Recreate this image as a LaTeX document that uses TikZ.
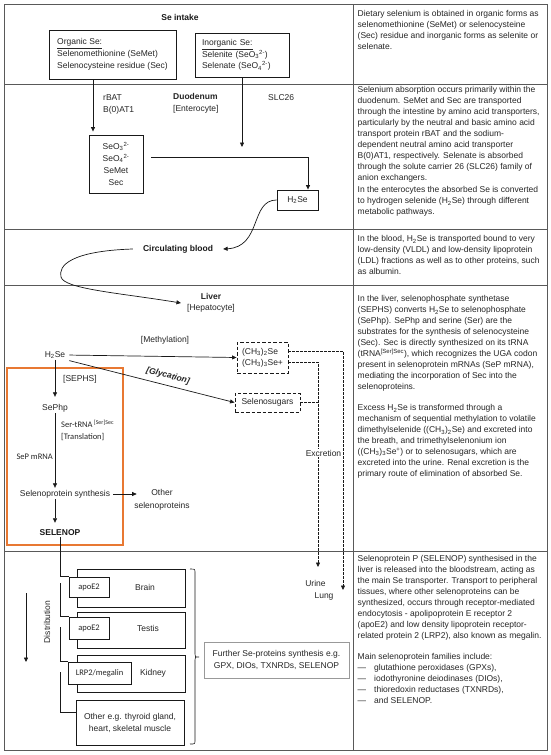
\documentclass[tikz,border=0pt]{standalone}
\usepackage{fontspec}
\setmainfont{Liberation Sans}
\newfontfamily\calfont{Carlito}
\usetikzlibrary{arrows.meta,calc}
\definecolor{boxorange}{RGB}{232,120,50}
\newcommand\myfs{\fontsize{8.5}{10.9}\selectfont}
\begin{document}
\begin{tikzpicture}[x=1pt,y=-1pt,
  every node/.style={font=\myfs, inner sep=1pt, text=black!85},
  hdr/.style={font=\myfs\bfseries, text=black!90},
  cal/.style={font=\calfont\fontsize{8.5}{10}\selectfont},
  bx/.style={draw=black!90, line width=0.9pt},
  dbx/.style={draw=black!90, line width=0.9pt, dash pattern=on 3.5pt off 2pt},
  ln/.style={draw=black!90, line width=0.7pt},
  arr/.style={ln, -{Triangle[length=4.5pt,width=4pt]}},
  dl/.style={ln, line width=0.6pt, dash pattern=on 2.5pt off 1.5pt},
  darr/.style={dl, -{Triangle[length=4.5pt,width=4pt]}},
  tbl/.style={draw=black!65, line width=0.8pt},
  orangebox/.style={draw=boxorange, line width=1.4pt},
  para/.style={anchor=north west, align=left, inner sep=0pt}]
\useasboundingbox (0,0) rectangle (550,755);
\fill[white] (0,0) rectangle (550,755);
% table
\draw[tbl] (4,4) rectangle (547,750);
\draw[tbl] (4,84) -- (547,84);
\draw[tbl] (4,229) -- (547,229);
\draw[tbl] (4,285) -- (547,285);
\draw[tbl] (4,551) -- (547,551);
\draw[tbl] (353,4) -- (353,750);

% ---- Se intake
\node[hdr] (intake) at (180,17) {Se intake};
\node[bx, minimum width=127pt, minimum height=49pt, align=left,
      font=\fontsize{8.5}{12}\selectfont] (org) at (112.5,54.5)
  {\underline{Organic Se:}\\Selenomethionine (SeMet)\\Selenocysteine residue (Sec)};
\node[bx, minimum width=94pt, minimum height=44pt, text width=80pt, align=left,
      font=\fontsize{8.5}{11.5}\selectfont] (inorg) at (242,55)
  {\underline{Inorganic Se:}\\Selenite (SeO\textsubscript{3}\textsuperscript{2-})\\Selenate (SeO\textsubscript{4}\textsuperscript{2-})};

% ---- Duodenum
\node[anchor=west, align=left, font=\fontsize{8.5}{12}\selectfont] (rbat) at (102,104) {rBAT\\B(0)AT1};
\node[anchor=west, align=left, font=\fontsize{8.5}{12}\selectfont] (duo) at (172,103) {\textbf{Duodenum}\\{[Enterocyte]}};
\node[anchor=west] (slc) at (267,98) {SLC26};
\node[bx, minimum width=54pt, minimum height=58pt, align=center,
      font=\fontsize{8.5}{12}\selectfont] (seo) at (116,164)
  {SeO\textsubscript{3}\textsuperscript{2-}\\SeO\textsubscript{4}\textsuperscript{2-}\\SeMet\\Sec};
\node[bx, minimum width=41pt, minimum height=20pt] (h2sa) at (297.5,200) {H\textsubscript{2}Se};
\coordinate (c93) at (93,0);
\coordinate (j1) at (308,157);
\draw[arr, shorten >=3pt] (org.south -| c93) -- (seo.north -| c93);
\draw[ln, shorten <=8pt] (seo.east |- j1) -- (j1);
\draw[arr] (j1) -- (h2sa.north -| j1);
\draw[arr, shorten >=10pt] (inorg.south) -- (inorg.south |- j1);

% ---- Blood
\node[hdr, inner xsep=10pt] (blood) at (178,249) {Circulating blood};
\node[align=center, inner xsep=6pt, font=\fontsize{8.5}{11}\selectfont] (liver) at (211,303) {\textbf{Liver}\\{[Hepatocyte]}};
\draw[arr] (h2sa.west) .. controls (250,200) and (262,247) .. (blood.east);
\draw[arr] (blood.west) .. controls (70,251) and (58,266) .. (61,277)
  .. controls (64,289) and (120,293) .. (liver.west);

% ---- Liver
\draw[orangebox] (7,368) rectangle (123,545);
\node (h2s) at (55,355) {H\textsubscript{2}Se};
\node (meth) at (165,340) {[Methylation]};
\node[dbx, minimum width=51pt, minimum height=31pt, align=left] (ch) at (262.5,357.5)
  {(CH\textsubscript{3})\textsubscript{2}Se\\(CH\textsubscript{3})\textsubscript{3}Se+};
\node[dbx, minimum width=65pt, minimum height=19pt] (sugar) at (267.5,402.5) {Selenosugars};
\draw[arr, shorten <=3pt] (h2s.east) -- (ch.west);
\draw[arr, shorten <=3pt] (h2s.south east) -- (sugar.west);
\node[font=\myfs\bfseries\itshape, rotate=-15] (glyc) at (168,376) {[Glycation]};

\coordinate (lungtop) at (343,351);
\coordinate (urinetop) at (318,362);
\coordinate (lungend) at (343,590);
\coordinate (urineend) at (318,567);
\draw[darr] (ch.east |- urinetop) -- (urinetop) -- (urineend);
\draw[dl] (sugar.east) -- (sugar.east -| urinetop);
\node[fill=white, inner sep=0.5pt] (excr) at (323.5,453) {Excretion};
\draw[darr] (ch.east |- lungtop) -- (lungtop) -- (lungend);
\node (urine) at (315.5,583) {Urine};
\node (lung) at (324,596) {Lung};

\node[anchor=west] (sephs) at (62,379) {[SEPHS]};
\node (sephp) at (55,408) {SePhp};
\draw[arr, shorten >=6pt] (h2s.south) -- (sephp.north);
\node[anchor=west, cal] (sertrna) at (60,424) {Ser-tRNA\,\textsuperscript{[Ser]Sec}};
\node[anchor=west, cal] (transl) at (60,437) {[Translation]};
\node[anchor=east, cal] (sepm) at (54,457) {SeP mRNA};
\node (synth) at (65,494) {Selenoprotein synthesis};
\draw[arr, shorten >=1pt] (sephp.south) -- (sephp.south |- synth.north);
\node[align=center, font=\fontsize{8.5}{13}\selectfont] (other) at (162,500) {Other\\selenoproteins};
\draw[arr, shorten <=2pt, shorten >=-3.5pt] (synth.east) -- (synth.east -| other.west);
\node[hdr] (selenop) at (60,533) {SELENOP};
\draw[arr, shorten >=6pt] (synth.south -| sephp.south) -- (selenop.north -| sephp.south);

% ---- Distribution
\node[bx, minimum width=108pt, minimum height=38pt] (brain) at (131,588) {};
\node (brainl) at (145,587) {Brain};
\node[bx, fill=white, cal, minimum width=40pt, minimum height=20pt] (apoa) at (89,587) {apoE2};
\node[bx, minimum width=108pt, minimum height=36pt] (testis) at (131,630) {};
\node (testisl) at (148,628) {Testis};
\node[bx, fill=white, cal, minimum width=40pt, minimum height=22pt] (apob) at (89,628) {apoE2};
\node[bx, minimum width=108pt, minimum height=37pt] (kidney) at (131,673.5) {};
\node (kidneyl) at (153,673) {Kidney};
\node[bx, fill=white, cal, minimum width=63pt, minimum height=22pt] (lrp) at (99.5,673) {LRP2/megalin};
\node[bx, minimum width=108pt, minimum height=45pt, align=center,
      font=\fontsize{8.5}{12}\selectfont] (otherorg) at (130,722.5)
  {Other e.g. thyroid gland,\\heart, skeletal muscle};

\coordinate (d2) at (60,583);
\coordinate (d3) at (60,627);
\coordinate (d4) at (60,672);
\draw[ln] (selenop.south) |- (apoa.north west);
\draw[ln] (d2) |- (apob.north west);
\draw[ln] (d3) |- (lrp.north west);
\draw[ln] (d4) |- ($(otherorg.north west)!0.27!(otherorg.south west)$);

\node[rotate=90] (distr) at (47,622) {Distribution};
\coordinate (ds) at (26,593);
\coordinate (de) at (26,662);
\draw[arr] (ds) -- (de);

\draw[ln, line width=0.6pt] (190,569) .. controls (195,569) .. (195,573) -- (195,654)
  .. controls (195,657) .. (199,657) .. controls (195,657) .. (195,660) -- (195,740)
  .. controls (195,744) .. (190,744);
\node[draw=black!40, line width=0.7pt, minimum width=145pt, minimum height=36pt, align=center,
      font=\fontsize{8.5}{12}\selectfont] (further) at (276.5,660)
  {Further Se-proteins synthesis e.g.\\GPX, DIOs, TXNRDs, SELENOP};

% ---- right column
\node[para] (t1) at (357.5,10.5) {Dietary selenium is obtained in organic forms as\\
selenomethionine (SeMet) or selenocysteine\\
(Sec) residue and inorganic forms as selenite or\\
selenate.};
\node[para] (t2) at (357.5,86.5) {Selenium absorption occurs primarily within the\\
duodenum. SeMet and Sec are transported\\
through the intestine by amino acid transporters,\\
particularly by the neutral and basic amino acid\\
transport protein rBAT and the sodium-\\
dependent neutral amino acid transporter\\
B(0)AT1, respectively. Selenate is absorbed\\
through the solute carrier 26 (SLC26) family of\\
anion exchangers.\\[1.8pt]
In the enterocytes the absorbed Se is converted\\
to hydrogen selenide (H\textsubscript{2}Se) through different\\
metabolic pathways.};
\node[para] (t3) at (357.5,235.5) {In the blood, H\textsubscript{2}Se is transported bound to very\\
low-density (VLDL) and low-density lipoprotein\\
(LDL) fractions as well as to other proteins, such\\
as albumin.};
\node[para] (t4) at (357.5,295.5) {In the liver, selenophosphate synthetase\\
(SEPHS) converts H\textsubscript{2}Se to selenophosphate\\
(SePhp). SePhp and serine (Ser) are the\\
substrates for the synthesis of selenocysteine\\
(Sec). Sec is directly synthesized on its tRNA\\
(tRNA\textsuperscript{[Ser]Sec}), which recognizes the UGA codon\\
present in selenoprotein mRNAs (SeP mRNA),\\
mediating the incorporation of Sec into the\\
selenoproteins.\\[10.9pt]
Excess H\textsubscript{2}Se is transformed through a\\
mechanism of sequential methylation to volatile\\
dimethylselenide ((CH\textsubscript{3})\textsubscript{2}Se) and excreted into\\
the breath, and trimethylselenonium ion\\
((CH\textsubscript{3})\textsubscript{3}Se\textsuperscript{+}) or to selenosugars, which are\\
excreted into the urine. Renal excretion is the\\
primary route of elimination of absorbed Se.};
\node[para] (t5) at (357.5,555.5) {Selenoprotein P (SELENOP) synthesised in the\\
liver is released into the bloodstream, acting as\\
the main Se transporter. Transport to peripheral\\
tissues, where other selenoproteins can be\\
synthesized, occurs through receptor-mediated\\
endocytosis - apolipoprotein E receptor 2\\
(apoE2) and low density lipoprotein receptor-\\
related protein 2 (LRP2), also known as megalin.\\[10.9pt]
Main selenoprotein families include:\\
\makebox[16.5pt][l]{\textemdash}glutathione peroxidases (GPXs),\\
\makebox[16.5pt][l]{\textemdash}iodothyronine deiodinases (DIOs),\\
\makebox[16.5pt][l]{\textemdash}thioredoxin reductases (TXNRDs),\\
\makebox[16.5pt][l]{\textemdash}and SELENOP.};
\end{tikzpicture}
\end{document}
